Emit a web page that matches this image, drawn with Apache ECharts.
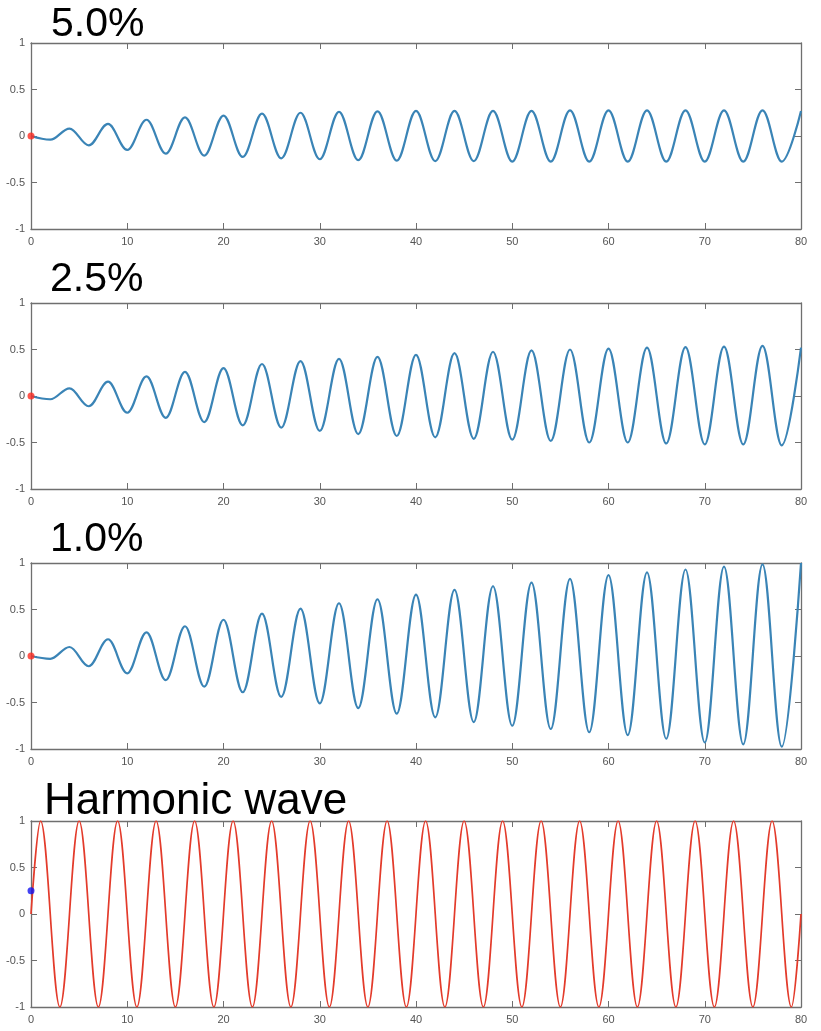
<!DOCTYPE html>
<html>
<head>
<meta charset="utf-8">
<script src="https://cdn.jsdelivr.net/npm/echarts@6/dist/echarts.min.js"></script>
<style>
  html, body { margin: 0; padding: 0; background: #ffffff; }
  #chart { width: 821px; height: 1031px; }
</style>
</head>
<body>
<div id="chart"></div>
<script>
// Times of the successive peaks and troughs of the damped responses
const dampedTimes = [0, 2, 4, 6, 8, 10, 12, 14, 16, 18, 20, 22, 24, 26, 28, 30, 32, 34, 36, 38, 40,
  42, 44, 46, 48, 50, 52, 54, 56, 58, 60, 62, 64, 66, 68, 70, 72, 74, 76, 78, 80];

// Response at those peaks / troughs, 5.0 % damping
const response5 = [0, -0.04, 0.08, -0.10, 0.13, -0.15, 0.175, -0.19, 0.20, -0.21, 0.22,
  -0.225, 0.24, -0.24, 0.25, -0.25, 0.26, -0.26, 0.265, -0.265, 0.27,
  -0.27, 0.27, -0.27, 0.27, -0.275, 0.27, -0.275, 0.275, -0.275, 0.275,
  -0.275, 0.275, -0.275, 0.275, -0.275, 0.275, -0.275, 0.275, -0.275, 0.27];

// 2.5 % damping
const response25 = [0, -0.035, 0.083, -0.11, 0.154, -0.18, 0.21, -0.235, 0.26, -0.28, 0.30,
  -0.315, 0.344, -0.34, 0.376, -0.376, 0.40, -0.41, 0.42, -0.43, 0.443,
  -0.444, 0.46, -0.46, 0.476, -0.47, 0.49, -0.484, 0.50, -0.50, 0.51,
  -0.50, 0.52, -0.51, 0.525, -0.52, 0.53, -0.52, 0.54, -0.53, 0.52];

// 1.0 % damping
const response10 = [0, -0.03, 0.097, -0.11, 0.18, -0.186, 0.255, -0.26, 0.32, -0.33, 0.39,
  -0.39, 0.455, -0.44, 0.51, -0.51, 0.567, -0.56, 0.61, -0.62, 0.66,
  -0.66, 0.71, -0.71, 0.75, -0.75, 0.79, -0.785, 0.83, -0.82, 0.87,
  -0.85, 0.90, -0.89, 0.93, -0.93, 0.96, -0.95, 0.985, -0.975, 1.0];

// Harmonic excitation: start, crests / troughs, end
const harmonicTimes = [0, 1, 3, 5, 7, 9, 11, 13, 15, 17, 19, 21, 23, 25, 27, 29, 31, 33, 35, 37, 39,
  41, 43, 45, 47, 49, 51, 53, 55, 57, 59, 61, 63, 65, 67, 69, 71, 73, 75, 77, 79, 80];
const harmonicValues = [0, 1, -1, 1, -1, 1, -1, 1, -1, 1, -1, 1, -1, 1, -1, 1, -1, 1, -1, 1, -1,
  1, -1, 1, -1, 1, -1, 1, -1, 1, -1, 1, -1, 1, -1, 1, -1, 1, -1, 1, -1, 0];

const panelTitles = ['5.0%', '2.5%', '1.0%', 'Harmonic wave'];
const startPoints = [[0, 0], [0, 0], [0, 0], [0, 0.25]];

const xRange = { min: 0, max: 80, interval: 10 };
const yRange = { min: -1, max: 1, interval: 0.5 };

const panels = [
  { x: dampedTimes, y: response5, color: '#3a84b6', width: 2.2, dot: '#ff2a1f' },
  { x: dampedTimes, y: response25, color: '#3a84b6', width: 2.2, dot: '#ff2a1f' },
  { x: dampedTimes, y: response10, color: '#3a84b6', width: 2.2, dot: '#ff2a1f' },
  { x: harmonicTimes, y: harmonicValues, color: '#e33b2b', width: 1.7, dot: '#1414f0' }
];

const gridTops = [43, 303, 563, 821];
const titleTops = [4, 259, 519, 780];
const titleLefts = [51, 50, 50, 44];
const titleSizes = [41, 41, 41, 44];

const axisColor = '#6f6f6f';
const labelColor = '#555555';
const font = '"Liberation Sans", Arial, sans-serif';

const grid = [], xAxis = [], yAxis = [], series = [], graphic = [];

panels.forEach((p, i) => {
  grid.push({ left: 31, width: 770, top: gridTops[i], height: 186, containLabel: false });

  const tick = { show: true, inside: true, length: 6, lineStyle: { color: axisColor, width: 1 } };
  const line = { show: true, onZero: false, lineStyle: { color: axisColor, width: 1.3 } };

  xAxis.push({
    type: 'value', gridIndex: i, position: 'bottom', ...xRange,
    axisLine: line, axisTick: tick, splitLine: { show: false },
    axisLabel: { color: labelColor, fontSize: 11, fontFamily: font, margin: 7 }
  });
  xAxis.push({
    type: 'value', gridIndex: i, position: 'top', ...xRange,
    axisLine: line, axisTick: tick, splitLine: { show: false }, axisLabel: { show: false }
  });
  yAxis.push({
    type: 'value', gridIndex: i, position: 'left', ...yRange,
    axisLine: line, axisTick: tick, splitLine: { show: false },
    axisLabel: { color: labelColor, fontSize: 11, fontFamily: font, margin: 6 }
  });
  yAxis.push({
    type: 'value', gridIndex: i, position: 'right', ...yRange,
    axisLine: line, axisTick: tick, splitLine: { show: false }, axisLabel: { show: false }
  });

  series.push({
    type: 'line', xAxisIndex: 2 * i, yAxisIndex: 2 * i,
    data: p.x.map((t, k) => [t, p.y[k]]),
    smooth: 0.36, smoothMonotone: 'x',
    showSymbol: false, clip: true,
    lineStyle: { color: p.color, width: p.width },
    animation: false, silent: true
  });
  series.push({
    type: 'scatter', xAxisIndex: 2 * i, yAxisIndex: 2 * i,
    data: [startPoints[i]], symbolSize: 7, clip: false,
    itemStyle: { color: p.dot }, animation: false, silent: true, z: 5
  });

  graphic.push({
    type: 'text', left: titleLefts[i], top: titleTops[i],
    style: { text: panelTitles[i], font: titleSizes[i] + 'px ' + font, fill: '#000000' }
  });
});

const chart = echarts.init(document.getElementById('chart'), null, { renderer: 'canvas' });
chart.setOption({ backgroundColor: '#ffffff', animation: false, grid, xAxis, yAxis, series, graphic });
</script>
</body>
</html>
